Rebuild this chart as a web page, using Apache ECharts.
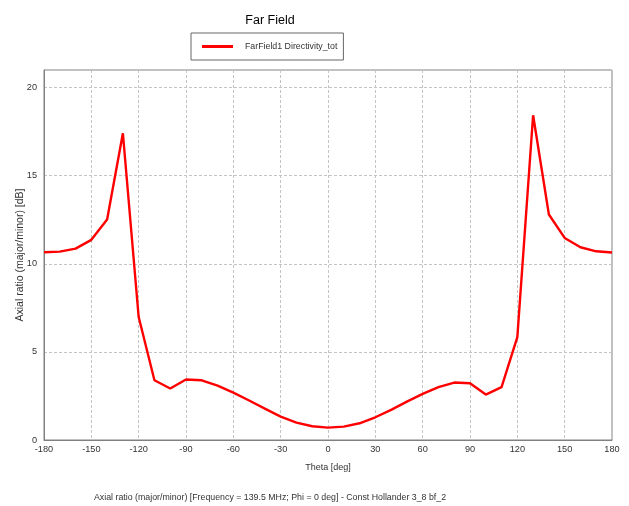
<!DOCTYPE html>
<html>
<head>
<meta charset="utf-8">
<script src="https://cdn.jsdelivr.net/npm/echarts@6/dist/echarts.min.js"></script>
<style>
html,body{margin:0;padding:0;background:#fff;}
#chart{width:629px;height:506px;}
</style>
</head>
<body>
<div id="chart"></div>
<script>
var theta = [-180,-170,-160,-150,-140,-130,-120,-110,-100,-90,-80,-70,-60,-50,-40,-30,-20,-10,0,10,20,30,40,50,60,70,80,90,100,110,120,130,140,150,160,170,180];
var axialRatio = [10.66,10.69,10.86,11.36,12.51,17.41,6.98,3.39,2.92,3.43,3.39,3.09,2.69,2.24,1.78,1.33,0.99,0.78,0.70,0.76,0.95,1.29,1.71,2.18,2.62,3.00,3.26,3.22,2.58,3.00,5.84,18.43,12.80,11.47,10.94,10.71,10.64];
var xTicks = {min:-180, max:180, interval:30};
var yTicks = {min:0, max:21, interval:5};
var seriesName = 'FarField1 Directivity_tot';
var titleText = 'Far Field';
var footText = 'Axial ratio (major/minor) [Frequency = 139.5 MHz; Phi = 0 deg] - Const Hollander 3_8 bf_2';
var xName = 'Theta [deg]';
var yName = 'Axial ratio (major/minor) [dB]';

var REG = "'Liberation Sans', Arial, sans-serif";

var data = theta.map(function(t,i){return [t, axialRatio[i]];});
var chart = echarts.init(document.getElementById('chart'), null, {renderer:'canvas'});
chart.setOption({
  backgroundColor:'#ffffff',
  animation:false,
  title:[
    {text:titleText, left:265, top:9, textAlign:'center',
     textStyle:{fontFamily:REG, fontSize:12.5, fontWeight:'normal', color:'#000'}},
    {text:footText, left:265, top:488, textAlign:'center',
     textStyle:{fontFamily:REG, fontSize:8.8, fontWeight:'normal', color:'#333'}}
  ],
  legend:{
    left:191, top:33,
    padding:[9,6,9,11],
    borderColor:'#666', borderWidth:1,
    icon:'rect', itemWidth:31, itemHeight:3,
    textStyle:{fontFamily:REG, fontSize:8.8, color:'#333', padding:[0,0,0,7]},
    data:[seriesName]
  },
  grid:{left:44, right:17, top:70, bottom:66, show:true, borderColor:'#808080', borderWidth:1, backgroundColor:'#fff', outerBoundsMode:'none', containLabel:false},
  xAxis:{
    type:'value', min:xTicks.min, max:xTicks.max, interval:xTicks.interval,
    name:xName, nameLocation:'middle', nameGap:23, nameMoveOverlap:false,
    nameTextStyle:{fontFamily:REG, fontSize:9, color:'#333'},
    axisLine:{show:true, onZero:false, lineStyle:{color:'#808080'}},
    axisTick:{show:false},
    axisLabel:{fontFamily:REG, fontSize:9.2, color:'#333', margin:5},
    splitLine:{show:true, lineStyle:{color:'#c4c4c4', type:[3,2], width:1}}
  },
  yAxis:{
    type:'value', min:yTicks.min, max:yTicks.max, interval:yTicks.interval,
    name:yName, nameLocation:'middle', nameGap:18, nameRotate:90, nameMoveOverlap:false,
    nameTextStyle:{fontFamily:REG, fontSize:10.5, color:'#333'},
    axisLine:{show:true, onZero:false, lineStyle:{color:'#808080'}},
    axisTick:{show:false},
    axisLabel:{fontFamily:REG, fontSize:9.2, color:'#333', margin:7, showMaxLabel:false,
      formatter:function(v){return v===yTicks.max?'':String(v);}},
    splitLine:{show:true, lineStyle:{color:'#c4c4c4', type:[3,2], width:1}}
  },
  series:[{
    name:seriesName, type:'line', data:data, showSymbol:false, symbol:'none',
    lineStyle:{color:'#ff0000', width:2.4}, itemStyle:{color:'#ff0000'}
  }]
});
</script>
</body>
</html>
